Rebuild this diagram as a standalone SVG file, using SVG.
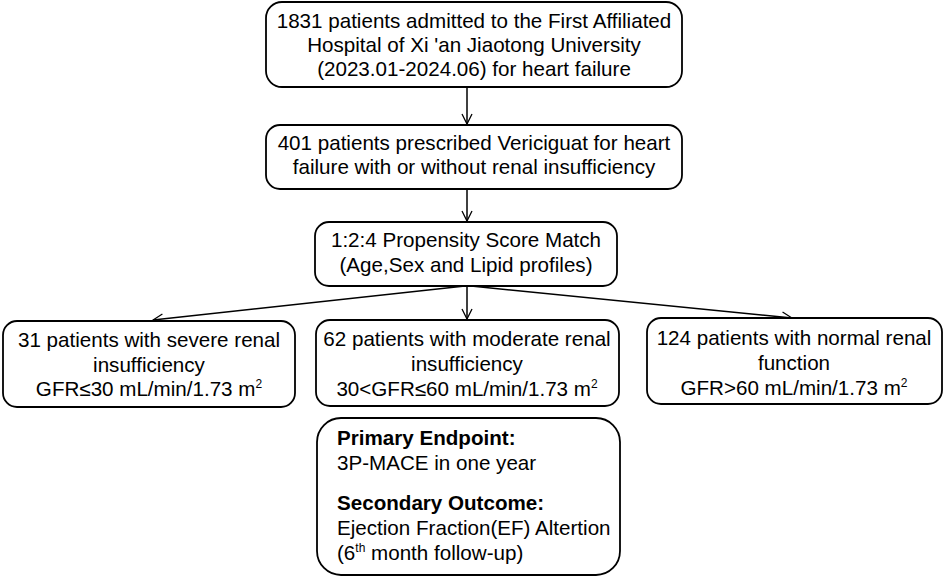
<svg xmlns="http://www.w3.org/2000/svg" width="945" height="578" viewBox="0 0 945 578">
<defs>
<marker id="arr" markerWidth="12" markerHeight="12" refX="11" refY="6" orient="auto" markerUnits="userSpaceOnUse">
<path d="M1,1 L11,6 L1,11" fill="none" stroke="#000" stroke-width="1.3"/>
</marker>
<style>
.box{fill:#fff;stroke:#000;stroke-width:1.8}
.t{font-family:"Liberation Sans",Arial,sans-serif;font-size:20.6px;fill:#000;text-anchor:middle}
.l{font-family:"Liberation Sans",Arial,sans-serif;font-size:20.6px;fill:#000}
.b{font-weight:bold}
.sup{font-size:12px}
.c{stroke:#000;stroke-width:1.5;fill:none;marker-end:url(#arr)}
</style>
</defs>
<rect width="945" height="578" fill="#fff"/>
<g id="connectors">
<line class="c" x1="467" y1="88" x2="467" y2="124"/>
<line class="c" x1="467" y1="189" x2="467" y2="221"/>
<line class="c" x1="467" y1="286" x2="467" y2="319"/>
<line class="c" x1="465" y1="286" x2="153" y2="320"/>
<line class="c" x1="471" y1="286" x2="792" y2="318"/>
</g>
<g id="n1">
<rect class="box" x="266" y="2" width="416" height="85" rx="16"/>
<text class="t" x="474" y="27.5">1831 patients admitted to the First Affiliated</text>
<text class="t" x="474" y="52">Hospital of Xi 'an Jiaotong University</text>
<text class="t" x="474" y="76">(2023.01-2024.06) for heart failure</text>
</g>
<g id="n2">
<rect class="box" x="266" y="125" width="416" height="64" rx="14"/>
<text class="t" x="474" y="150">401 patients prescribed Vericiguat for heart</text>
<text class="t" x="474" y="173.5">failure with or without renal insufficiency</text>
</g>
<g id="n3">
<rect class="box" x="315" y="222" width="302" height="64" rx="14"/>
<text class="t" x="466" y="247">1:2:4 Propensity Score Match</text>
<text class="t" x="466" y="272">(Age,Sex and Lipid profiles)</text>
</g>
<g id="n4">
<rect class="box" x="3" y="321" width="292" height="86" rx="14"/>
<text class="t" x="149" y="346.5">31 patients with severe renal</text>
<text class="t" x="149" y="371.5">insufficiency</text>
<text class="t" x="149" y="396">GFR≤30 mL/min/1.73 m<tspan class="sup" dy="-8">2</tspan></text>
</g>
<g id="n5">
<rect class="box" x="316" y="320" width="303" height="86" rx="14"/>
<text class="t" x="467" y="346">62 patients with moderate renal</text>
<text class="t" x="467" y="371">insufficiency</text>
<text class="t" x="467" y="396">30&lt;GFR≤60 mL/min/1.73 m<tspan class="sup" dy="-8">2</tspan></text>
</g>
<g id="n6">
<rect class="box" x="647" y="318" width="295" height="86" rx="14"/>
<text class="t" x="794" y="345">124 patients with normal renal</text>
<text class="t" x="794" y="370">function</text>
<text class="t" x="794" y="395">GFR&gt;60 mL/min/1.73 m<tspan class="sup" dy="-8">2</tspan></text>
</g>
<g id="n7">
<rect class="box" x="317" y="418" width="303" height="157" rx="24"/>
<text class="l b" x="337" y="445">Primary Endpoint:</text>
<text class="l" x="337" y="470">3P-MACE in one year</text>
<text class="l b" x="337" y="510">Secondary Outcome:</text>
<text class="l" x="337" y="535">Ejection Fraction(EF) Altertion</text>
<text class="l" x="337" y="560">(6<tspan class="sup" dy="-8">th</tspan><tspan dy="8"> month follow-up)</tspan></text>
</g>
</svg>
